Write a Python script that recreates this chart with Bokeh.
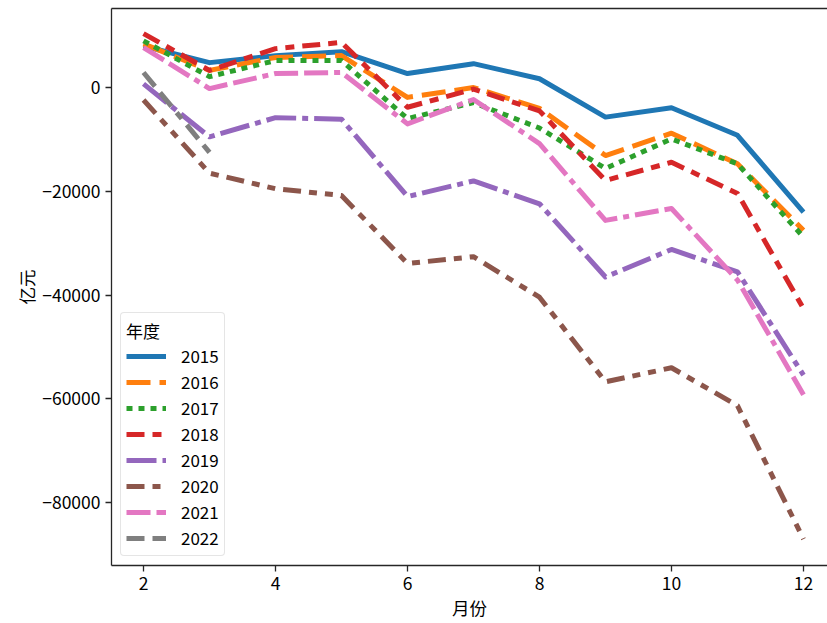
from bokeh.plotting import figure
from bokeh.models import Legend, LegendItem, FixedTicker, LinearAxis, Range1d
from bokeh.embed import file_html
from bokeh.resources import INLINE

months = [2, 3, 4, 5, 6, 7, 8, 9, 10, 11, 12]
years = ["2015", "2016", "2017", "2018", "2019", "2020", "2021", "2022"]

v2015 = [8000, 4800, 6150, 6900, 2700, 4600, 1700, -5700, -3900, -9200, -24000]
v2016 = [8400, 3300, 5800, 6150, -1900, 0, -4000, -13100, -8800, -14700, -27500]
v2017 = [9000, 2100, 5200, 5200, -6000, -2900, -7800, -15600, -9900, -14700, -28800]
v2018 = [10400, 3300, 7500, 8700, -3800, -300, -4500, -17900, -14400, -20400, -42600]
v2019 = [700, -9500, -5800, -6100, -21000, -18000, -22400, -36500, -31200, -35500, -55400]
v2020 = [-2400, -16500, -19500, -20800, -33900, -32600, -40400, -56700, -54000, -61300, -87000]
v2021 = [7700, -200, 2700, 2900, -7000, -2300, -10800, -25600, -23300, -37100, -59200]
v2022 = [2900, -12500]

series = [v2015, v2016, v2017, v2018, v2019, v2020, v2021, v2022]

x_ticks = [2, 4, 6, 8, 10, 12]
y_ticks = [0, -20000, -40000, -60000, -80000]
y_tick_labels = ["0", "\u221220000", "\u221240000", "\u221260000", "\u221280000"]

x_title = "月份"
y_title = "亿元"
legend_title = "年度"

colors = ["#1f77b4", "#ff7f0e", "#2ca02c", "#d62728",
          "#9467bd", "#8c564b", "#e377c2", "#7f7f7f"]
dashes = ["solid", "24 9", "6 6", "18 8 9 8",
          "30 6 6 6", "18 8 8 8 8 8", "24 6 24 6 6 6", "18 8 18 8 8 8"]

FONT = "Noto Sans CJK SC"

p = figure(width=827, height=623, output_backend="svg", toolbar_location=None,
           x_range=Range1d(1.515, 12.364), y_range=Range1d(-92100, 15230),
           min_border_left=111, min_border_right=0, min_border_top=8,
           min_border_bottom=58)
p.outline_line_color = None
p.xgrid.visible = False
p.ygrid.visible = False
p.background_fill_color = "white"
p.border_fill_color = "white"

items = []
for yr, vals, c, d in zip(years, series, colors, dashes):
    r = p.line(months[:len(vals)], vals, line_color=c, line_width=5,
               line_dash=d, line_join="round")
    items.append(LegendItem(label=yr, renderers=[r]))

for ax in (p.xaxis[0], p.yaxis[0]):
    ax.axis_line_color = "#262626"
    ax.axis_line_width = 1.3
    ax.major_tick_line_color = "#262626"
    ax.major_tick_line_width = 1.3
    ax.major_tick_out = 6
    ax.major_tick_in = 0
    ax.minor_tick_line_color = None
    ax.major_label_text_font = FONT
    ax.major_label_text_font_size = "17.5px"
    ax.major_label_text_color = "black"
    ax.axis_label_text_font = FONT
    ax.axis_label_text_font_size = "17.5px"
    ax.axis_label_text_font_style = "normal"
    ax.axis_label_text_color = "black"

p.xaxis[0].ticker = FixedTicker(ticks=x_ticks)
p.yaxis[0].ticker = FixedTicker(ticks=y_ticks)
p.yaxis[0].major_label_overrides = {t: l for t, l in zip(y_ticks, y_tick_labels)}
p.xaxis[0].axis_label = x_title
p.yaxis[0].axis_label = y_title
p.xaxis[0].major_label_standoff = 5
p.yaxis[0].major_label_standoff = 5
p.xaxis[0].axis_label_standoff = 2
p.yaxis[0].axis_label_standoff = 0

top = LinearAxis(ticker=FixedTicker(ticks=[]), axis_line_color="#262626",
                 axis_line_width=1.3, major_tick_line_color=None,
                 minor_tick_line_color=None, major_label_text_font_size="0px")
p.add_layout(top, "above")

legend = Legend(items=items, location="bottom_left", title=legend_title)
legend.title_text_font = FONT
legend.title_text_font_size = "17px"
legend.title_text_font_style = "normal"
legend.title_text_color = "black"
legend.label_text_font = FONT
legend.label_text_font_size = "17px"
legend.label_text_color = "black"
legend.glyph_width = 40
legend.glyph_height = 20
legend.label_height = 20
legend.label_standoff = 15
legend.spacing = 1
legend.padding = 5
legend.margin = 9
legend.title_standoff = 0
legend.border_line_color = "#cccccc"
legend.border_line_width = 1.3
legend.background_fill_alpha = 0.8
if "border_radius" in Legend.properties():
    legend.border_radius = 4
p.add_layout(legend)

open("out.html", "w").write(file_html(p, INLINE))
